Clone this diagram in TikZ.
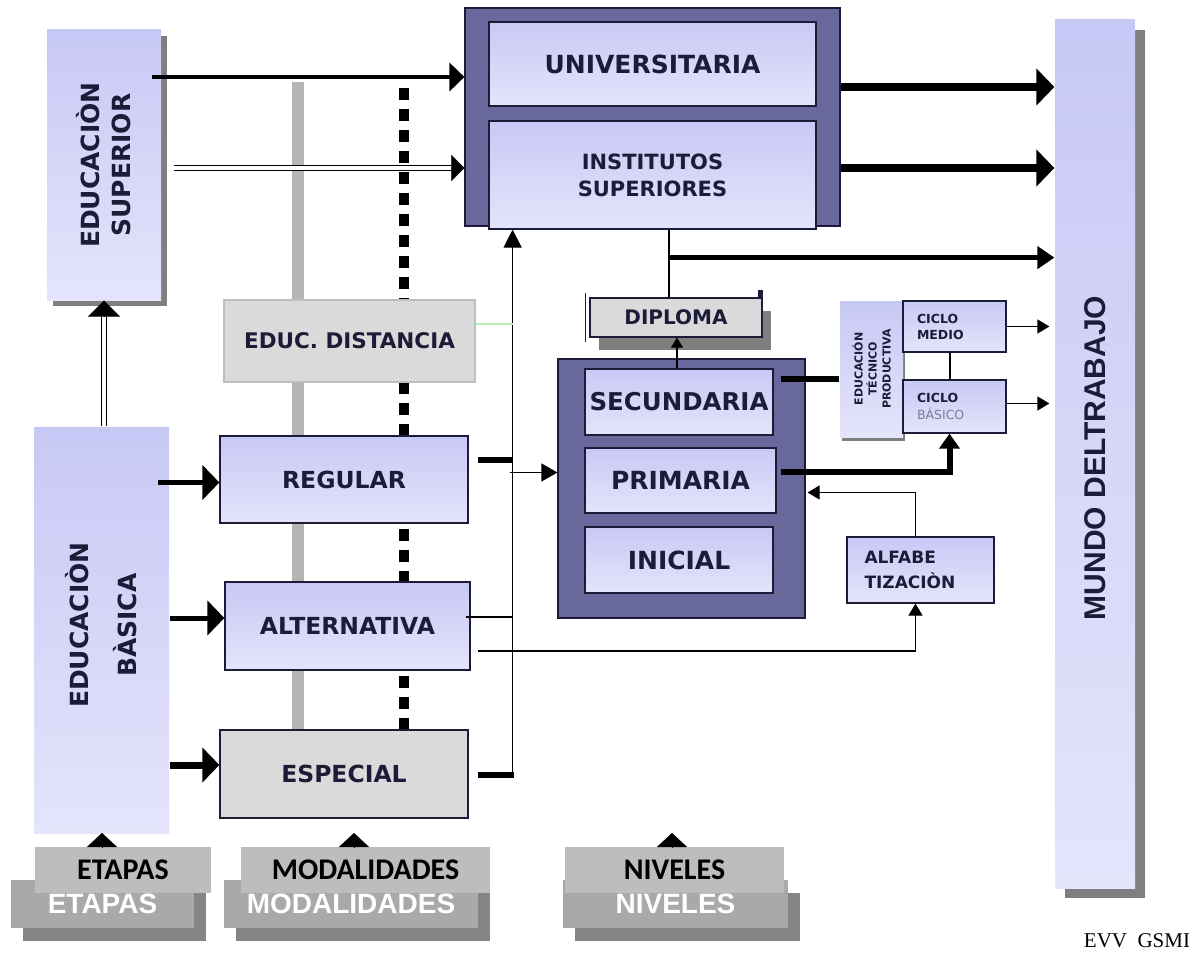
\documentclass[tikz,border=0pt]{standalone}
\usepackage{fontspec}
\setmainfont{Liberation Serif}
\newfontfamily\cajafont{DejaVu Sans}
\newfontfamily\anchafont{Liberation Sans}
\newfontfamily\etiqfont{Carlito}
\usetikzlibrary{arrows.meta, calc, shadows, backgrounds}

\definecolor{lavA}{HTML}{C8C8F6}
\definecolor{lavB}{HTML}{E4E4FB}
\definecolor{oscuro}{HTML}{68689D}
\definecolor{grisC}{HTML}{DADADA}
\definecolor{tinta}{HTML}{1C1C38}
\definecolor{tenue}{HTML}{7A7A9A}
\definecolor{barra}{HTML}{B5B5B5}
\definecolor{sombraC}{HTML}{7F7F7F}
\definecolor{etqA}{HTML}{BDBDBD}
\definecolor{etqB}{HTML}{A9A9A9}
\definecolor{etqC}{HTML}{858585}
\definecolor{verdeC}{HTML}{B8F0B8}

\tikzset{
  tam/.style 2 args={minimum width=#1pt, minimum height=#2pt},
  letra/.style={font=\cajafont\bfseries\fontsize{#1}{#1}\selectfont},
  caja/.style={draw=tinta, line width=1.2pt, top color=lavA, bottom color=lavB,
    inner sep=0pt, text=tinta, align=center},
  cajagris/.style={caja, top color=grisC, bottom color=grisC},
  grupo/.style={draw=tinta, line width=1.2pt, fill=oscuro, inner sep=0pt},
  sombra/.style 2 args={general shadow={fill=sombraC, shadow xshift=#1pt, shadow yshift=-#2pt}},
  girado/.style={rotate=90, align=center, text=tinta, inner sep=0pt},
  % flechas
  gruesa/.style={line width=5pt, -{Triangle[length=17pt, width=34pt]}},
  gruesaM/.style={line width=8pt, -{Triangle[length=18pt, width=36pt]}},
  gruesaC/.style={line width=5pt, -{Triangle[length=17pt, width=22pt]}},
  gruesaP/.style={line width=6pt, -{Triangle[length=15pt, width=20pt]}},
  fina/.style={line width=1.2pt, -{Triangle[length=12pt, width=14pt]}},
  doble/.style={double=white, double distance=3.5pt, line width=1.2pt},
  punta/.style={line width=0.1pt, -{Triangle[length=#1]}},
  barragris/.style={line width=12pt, draw=barra},
  punteada/.style={line width=10pt, dash pattern=on 12pt off 9pt},
  % rótulos de abajo
  rotuloF/.style={fill=etqA, inner sep=0pt, font=\etiqfont\bfseries\fontsize{30}{30}\selectfont},
  rotuloB/.style={fill=etqB, inner sep=0pt, text=white,
    general shadow={fill=etqC, shadow xshift=12pt, shadow yshift=-13pt},
    font=\anchafont\bfseries\fontsize{28}{30}\selectfont},
}

\begin{document}
\begin{tikzpicture}[x=1pt, y=-1pt]
  \useasboundingbox (0,0) rectangle (1195,966);

  % etapas
  \node[caja, draw=none, sombra={6}{6}, tam={114}{270}] (esup) at (104,165) {};
  \node[girado, font=\cajafont\bfseries\fontsize{25}{31}\selectfont] (esupT) at (esup) {EDUCACIÒN\\SUPERIOR};
  \node[caja, draw=none, tam={135}{406}] (ebas) at (101.5,630) {};
  \node[girado, font=\cajafont\bfseries\fontsize{25}{48}\selectfont] (ebasT) at ($(ebas)+(0,-5)$) {EDUCACIÒN\\BÀSICA};

  % modalidades
  \node[cajagris, draw=black!25, tam={251}{82}, letra=21.5] (dist) at (349.5,341) {EDUC. DISTANCIA};
  \node[caja, tam={248}{87}, letra=23.5] (reg) at (344,479.5) {REGULAR};
  \node[caja, tam={245}{88}, letra=23.5] (alt) at (347.5,626) {ALTERNATIVA};
  \node[cajagris, tam={248}{88}, letra=23.5] (esp) at (344,774) {ESPECIAL};

  % niveles superiores
  \node[grupo, tam={375}{218}] (supgrp) at (652.5,117) {};
  \node[caja, tam={327}{84}, letra=25] (univ) at (652.5,64) {UNIVERSITARIA};
  \node[caja, tam={327}{108}, font=\cajafont\bfseries\fontsize{21}{27}\selectfont] (inst) at (652.5,175) {INSTITUTOS\\SUPERIORES};

  % niveles basicos
  \node[grupo, tam={247}{259}] (basgrp) at (681.5,488.5) {};
  \node[caja, tam={188}{66}, letra=24.5] (sec) at (679,402) {SECUNDARIA};
  \node[caja, tam={191}{65}, letra=25] (pri) at (680.5,480.5) {PRIMARIA};
  \node[caja, tam={188}{66}, letra=25] (ini) at (679,560) {INICIAL};

  \node[cajagris, sombra={9}{13}, tam={172}{39}, letra=20] (dipl) at (676,317.5) {DIPLOMA};
  \draw[line width=1pt, tinta] ([shift={(-4,-4)}]dipl.north west) -- ([shift={(-4,4)}]dipl.south west);
  \fill[tinta] ([xshift=-5pt]dipl.north east) rectangle ++(5,-7);

  % tecnico productiva
  \node[caja, draw=none, sombra={2}{4}, tam={63}{136}] (etp) at (871.5,369) {};
  \node[girado, font=\cajafont\bfseries\fontsize{11}{14}\selectfont] (etpT) at (etp) {EDUCACIÓN\\TÉCNICO\\PRODUCTIVA};
  \node[caja, tam={103}{51}, text width=75pt, align=left, font=\cajafont\bfseries\fontsize{12.5}{16}\selectfont] (cmed) at (954.5,326.5) {CICLO\\MEDIO};
  \node[caja, tam={103}{53}, text width=75pt, align=left, font=\cajafont\bfseries\fontsize{12.5}{17}\selectfont] (cbas) at (954.5,406.5) {CICLO\\{\mdseries\color{tenue}BÁSICO}};
  \node[caja, tam={147}{66}, text width=112pt, align=left, font=\cajafont\bfseries\fontsize{17}{25}\selectfont] (alfa) at (920.5,570) {ALFABE\\TIZACIÒN};

  % mundo del trabajo
  \node[caja, draw=none, sombra={10}{10}, tam={80}{868}] (mundo) at (1095,454) {};
  \node[girado, font=\anchafont\bfseries\fontsize{30}{32}\selectfont] (mundoT) at ($(mundo)+(0,4)$) {MUNDO DELTRABAJO};

  % barra gris y linea punteada detras de las modalidades
  \coordinate (gtop) at (298,82);
  \coordinate (ptop) at (404,88);
  \begin{scope}[on background layer]
    \draw[barragris] (gtop) -- ($(gtop |- esp.north)+(0,5)$);
    \draw[punteada] (ptop) -- ($(ptop |- esp.north)+(0,14)$);
  \end{scope}

  % de educacion superior a los niveles superiores
  \coordinate (a1) at ($(esup.east)+(-10,-88)$);
  \draw[line width=4pt, -{Triangle[length=15pt, width=28pt]}] (a1) -- (a1 -| supgrp.west);
  \coordinate (a2) at ($(esup.east)+(12,3)$);
  \draw[doble, shorten >=9pt] (a2) -- (a2 -| supgrp.west);
  \draw[punta={13pt 0 0, width=26pt}] ($(a2 -| supgrp.west)+(-2,0)$) -- (a2 -| supgrp.west);

  % de basica a superior
  \draw[doble, shorten >=10pt] (esup.south |- ebas.north) -- (esup.south);
  \draw[punta={16pt 0 0, width=32pt}] ($(esup.south)+(0,2)$) -- (esup.south);

  % de basica a las modalidades
  \draw[gruesa] ($(ebas.east |- reg.west)+(-12,3)$) -- ($(reg.west)+(0,3)$);
  \draw[gruesa] ($(ebas.east |- alt.west)+(0,-8)$) -- ($(alt.west)+(0,-8)$);
  \draw[gruesa, line width=7pt] ($(ebas.east |- esp.west)+(0,-9)$) -- ($(esp.west)+(0,-9)$);

  % linea colectora de las modalidades
  \coordinate (busB) at ($(esp.east)+(44,1)$);
  \draw[fina, -{Triangle[length=18pt, width=18pt]}] (busB) -- (busB |- inst.south);
  \draw[line width=6pt] ($(reg.east)+(9,-20)$) -- ($(reg.east -| busB)+(0,-20)$);
  \draw[line width=1.2pt] ($(alt.east)+(-5,-9)$) -- ($(alt.east -| busB)+(0,-9)$);
  \draw[line width=6pt] ($(esp.east)+(9,1)$) -- ($(busB)+(1,0)$);
  \coordinate (g1) at ($(dist.east)+(0,-17)$);
  \draw[verdeC, line width=1.5pt] (g1) -- (g1 -| busB);
  \coordinate (pw) at ([yshift=8pt]pri.west);
  \draw[fina, -{Triangle[length=16pt, width=18pt]}] ($(pw -| busB)+(-3,0)$) -- (pw -| basgrp.west);
  \draw[fina] ($(alt.east)+(7,25)$) -| ([xshift=-5pt]alfa.south);

  % hacia el mundo del trabajo
  \coordinate (m1) at ($(univ.east)+(0,23)$);
  \draw[gruesaM] (m1 -| supgrp.east) -- (m1 -| mundo.west);
  \coordinate (m2) at ($(inst.east)+(0,-7)$);
  \draw[gruesaM] (m2 -| supgrp.east) -- (m2 -| mundo.west);
  \coordinate (dx) at ($(dipl.north)+(-7,0)$);
  \draw[line width=1.2pt] (dx) -- (dx |- inst.south);
  \coordinate (m3) at ($(dx |- inst.south)+(0,28)$);
  \draw[gruesaC] (m3) -- (m3 -| mundo.west);

  % secundaria, primaria y ciclos
  \draw[line width=1.2pt, -{Triangle[length=10pt, width=12pt]}] ($(sec.north)+(-2,0)$) -- ($(sec.north |- dipl.south)+(-2,0)$);
  \draw[line width=6pt] ($(sec.east)+(7,-23)$) -- ($(sec.east -| etp.west)+(0,-23)$);
  \coordinate (cb) at ($(cbas.south)+(-5,0)$);
  \draw[gruesaP] ($(pri.east)+(4,-9)$) -| (cb);
  \draw[line width=2pt] ($(cmed.south)+(-5,0)$) -- ($(cbas.north)+(-5,0)$);
  \draw[fina] (cmed.east) -- ($(cmed.east -| mundo.west)+(-5,0)$);
  \draw[fina] ($(cbas.east)+(0,-3)$) -- ($(cbas.east -| mundo.west)+(-5,-3)$);
  \coordinate (af) at ($(alfa.north)+(-5,0)$);
  \draw[fina] (af) |- ($(basgrp.east)+(2,4)$);

  % rotulos de abajo
  \node[rotuloB, tam={183}{48}] (etB) at (102.5,904) {ETAPAS};
  \node[rotuloB, tam={254}{48}] (moB) at (351,904) {MODALIDADES};
  \node[rotuloB, tam={225}{48}] (niB) at (675.5,904) {NIVELES};
  \node[rotuloF, tam={176}{46}] (etF) at (123,870) {ETAPAS};
  \node[rotuloF, tam={249}{46}] (moF) at (365.5,870) {MODALIDADES};
  \node[rotuloF, tam={219}{46}] (niF) at (674.5,870) {NIVELES};
  \coordinate (tE) at (102,833);
  \coordinate (tM) at (354,833);
  \coordinate (tN) at (672,833);
  \foreach \t in {tE,tM,tN}
    \draw[punta={14pt 0 0, width=30pt}] (\t |- etF.north) -- (\t);

  \node[font=\fontsize{21}{22}\selectfont, inner sep=0pt] (firma) at (1137,941) {EVV\ \ GSMI};
\end{tikzpicture}
\end{document}
